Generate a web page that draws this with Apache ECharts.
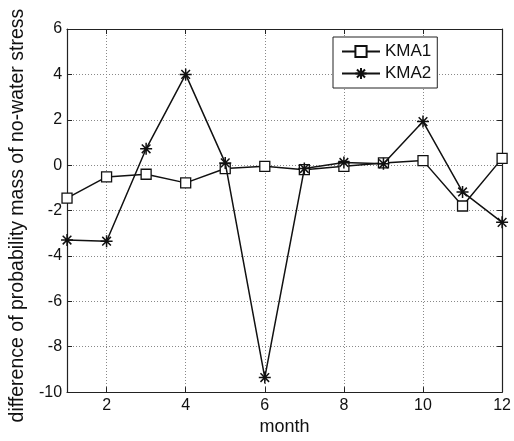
<!DOCTYPE html>
<html><head><meta charset="utf-8">
<script src="https://cdn.jsdelivr.net/npm/echarts@6/dist/echarts.min.js"></script>
<style>html,body{margin:0;padding:0;background:#fff}#c{width:514px;height:441px}</style>
</head><body><div id="c"></div>
<script>
const months = [1,2,3,4,5,6,7,8,9,10,11,12];
const kma1 = [-1.45,-0.52,-0.4,-0.78,-0.15,-0.05,-0.2,-0.05,0.1,0.2,-1.8,0.3];
const kma2 = [-3.3,-3.35,0.72,4.0,0.1,-9.36,-0.15,0.12,0.06,1.92,-1.18,-2.52];
const xTicks = [2,4,6,8,10,12];
const yTicks = [-10,-8,-6,-4,-2,0,2,4,6];

const F = 'Liberation Sans, Arial, sans-serif';
const star = 'path://M0,-5L0,5M-5,0L5,0M-3.6,-3.6L3.6,3.6M-3.6,3.6L3.6,-3.6';
const chart = echarts.init(document.getElementById('c'));
const gridLine = {show:true, lineStyle:{color:'#888', type:[1,2], width:1}};
const frameLine = {show:true,onZero:false,lineStyle:{color:'#222',width:1.2}};
chart.setOption({
  animation:false,
  backgroundColor:'#fff',
  grid:{left:65,right:9,top:29,bottom:44,show:false},
  legend:{
    left:333, top:37, orient:'vertical', padding:[6,6,6,8], itemGap:5,
    itemWidth:38, itemHeight:14,
    borderColor:'#222', borderWidth:1, backgroundColor:'#fff',
    textStyle:{fontFamily:F,fontSize:17,color:'#111'},
    data:['KMA1','KMA2']
  },
  xAxis:[{
    type:'value', min:1, max:12, position:'bottom',
    name:'month', nameLocation:'middle', nameGap:23,
    nameTextStyle:{fontFamily:F,fontSize:18,color:'#111'},
    axisLine:frameLine,
    axisTick:{show:true,inside:true,length:5,customValues:xTicks,lineStyle:{color:'#222'}},
    axisLabel:{customValues:xTicks,fontFamily:F,fontSize:16,color:'#111',margin:5},
    splitLine:gridLine
  },{
    type:'value', min:1, max:12, position:'top',
    axisLine:frameLine,
    axisTick:{show:true,inside:true,length:5,customValues:xTicks,lineStyle:{color:'#222'}},
    axisLabel:{show:false}, splitLine:{show:false}
  }],
  yAxis:[{
    type:'value', min:-10, max:6, interval:2, position:'left',
    name:'difference of probability mass of no-water stress',
    nameLocation:'middle', nameGap:39,
    nameTextStyle:{fontFamily:F,fontSize:19.5,color:'#111',padding:[0,10,0,0]},
    axisLine:frameLine,
    axisTick:{show:true,inside:true,length:5,lineStyle:{color:'#222'}},
    axisLabel:{fontFamily:F,fontSize:16,color:'#111',margin:5},
    splitLine:gridLine
  },{
    type:'value', min:-10, max:6, interval:2, position:'right',
    axisLine:frameLine,
    axisTick:{show:true,inside:true,length:5,lineStyle:{color:'#222'}},
    axisLabel:{show:false}, splitLine:{show:false}
  }],
  series:[{
    name:'KMA1', type:'line', xAxisIndex:0, yAxisIndex:0,
    data:months.map((m,i)=>[m,kma1[i]]),
    symbol:'rect', symbolSize:10, showAllSymbol:true,
    lineStyle:{color:'#111',width:1.5},
    itemStyle:{color:'#fff',borderColor:'#111',borderWidth:1.3},
    z:3
  },{
    name:'KMA2', type:'line', xAxisIndex:0, yAxisIndex:0,
    data:months.map((m,i)=>[m,kma2[i]]),
    symbol:star, symbolSize:12, showAllSymbol:true,
    lineStyle:{color:'#111',width:1.5},
    itemStyle:{color:'none',borderColor:'#111',borderWidth:1.5},
    z:4
  }]
});
</script></body></html>
